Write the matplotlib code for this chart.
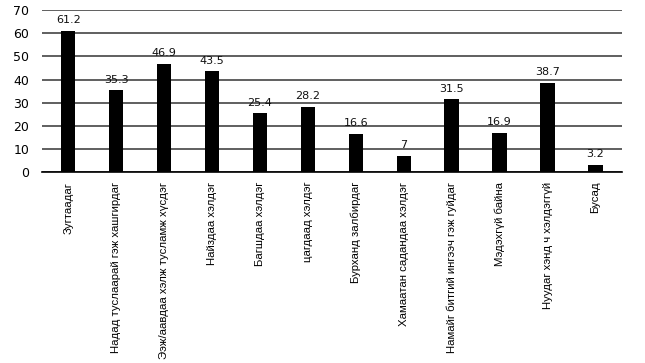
import matplotlib.pyplot as plt

# Data
categories = [
    "Зугтаадаг",
    "Надад туслаарай гэж хашгирдаг",
    "Ээж/аавдаа хэлж тусламж хүсдэг",
    "Найздаа хэлдэг",
    "Багшдаа хэлдэг",
    "цагдаад хэлдэг",
    "Бурханд залбирдаг",
    "Хамаатан садандаа хэлдэг",
    "Намайг битгий ингээч гэж гуйдаг",
    "Мэдэхгүй байна",
    "Нуудаг хэнд ч хэлдэггүй",
    "Бусад",
]
values = [61.2, 35.3, 46.9, 43.5, 25.4, 28.2, 16.6, 7, 31.5, 16.9, 38.7, 3.2]
value_labels = ["61.2", "35.3", "46.9", "43.5", "25.4", "28.2", "16.6", "7", "31.5", "16.9", "38.7", "3.2"]
y_ticks = [0, 10, 20, 30, 40, 50, 60, 70]

# Plotting
fig = plt.figure(figsize=(6.45, 3.63), dpi=100)
ax = fig.add_axes([0.065, 0.526, 0.899, 0.446])
x = list(range(len(categories)))
ax.bar(x, values, width=0.3, color='black', zorder=3)
for xi, v, lab in zip(x, values, value_labels):
    ax.annotate(lab, (xi, v), xytext=(0, 4), textcoords='offset points',
                ha='center', va='bottom', fontsize=8, color='#111')

ax.set_xlim(-0.55, len(categories) - 0.45)
ax.set_ylim(0, 70)
ax.set_yticks(y_ticks)
ax.yaxis.grid(True, color='#444', linewidth=1.2, zorder=0)
ax.set_axisbelow(True)
for s in ['top', 'right', 'left']:
    ax.spines[s].set_visible(False)
ax.spines['bottom'].set_color('black')
ax.spines['bottom'].set_linewidth(1.2)
ax.tick_params(axis='y', length=0, labelsize=9, pad=9)
ax.tick_params(axis='x', length=0, pad=7)
ax.set_xticks(x)
ax.set_xticklabels(categories, rotation=90, fontsize=8.2, va='top',
                   family='Liberation Sans')

fig.savefig('out.png', dpi=100)
